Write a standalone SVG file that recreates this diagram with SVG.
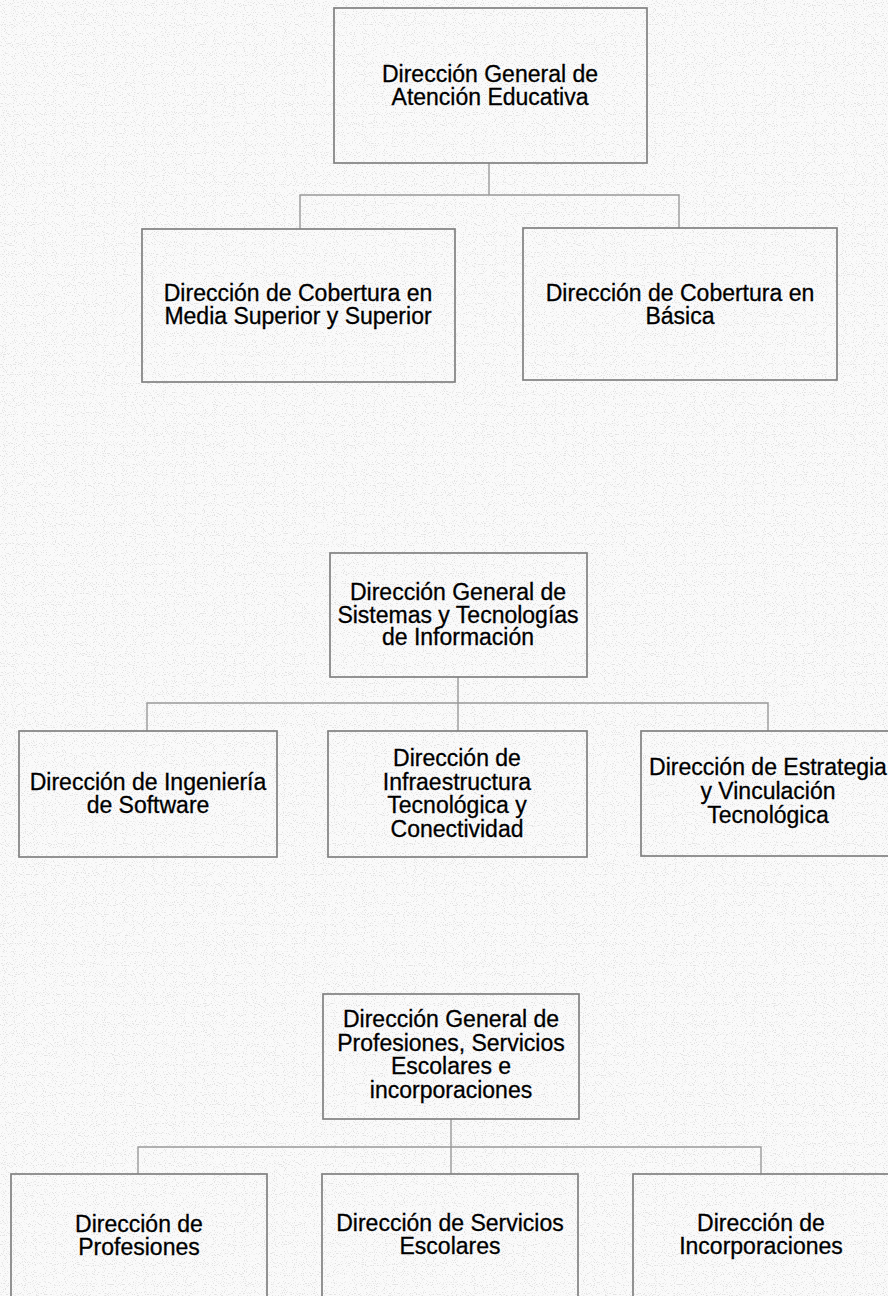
<svg xmlns="http://www.w3.org/2000/svg" width="888" height="1296" viewBox="0 0 888 1296">
<style>
.box{fill:none;stroke:#808080;stroke-width:1.7}
.con{fill:none;stroke:#999;stroke-width:1.4}
.t{font-family:"Liberation Sans",Arial,sans-serif;font-size:23px;fill:#000;stroke:#000;stroke-width:0.3;text-anchor:middle}
</style>
<defs>
<filter id="speckle" x="0" y="0" width="100%" height="100%" filterUnits="userSpaceOnUse">
<feTurbulence type="fractalNoise" baseFrequency="0.9" numOctaves="1" seed="7" result="n"/>
<feColorMatrix in="n" type="matrix" values="0 0 0 0 0.55 0 0 0 0 0.55 0 0 0 0 0.55 -7 0 0 0 3.1"/>
</filter>
</defs>
<rect width="888" height="1296" fill="#fafafa"/>
<rect width="888" height="1296" fill="#fff" filter="url(#speckle)" opacity="0.45"/>
<g id="connectors">
<path class="con" d="M489,163V195M300,229V195H679V228"/>
<path class="con" d="M458,677V731M147,731V703H768V731"/>
<path class="con" d="M451,1119V1174M138,1174V1147H761V1174"/>
</g>
<g id="n1"><rect class="box" x="334" y="8" width="313" height="155"/>
<text class="t" x="490" y="82">Dirección General de<tspan x="490" dy="23">Atención Educativa</tspan></text></g>
<g id="n2"><rect class="box" x="142" y="229" width="313" height="153"/>
<text class="t" x="298" y="301">Dirección de Cobertura en<tspan x="298" dy="23">Media Superior y Superior</tspan></text></g>
<g id="n3"><rect class="box" x="523" y="228" width="314" height="152"/>
<text class="t" x="680" y="301">Dirección de Cobertura en<tspan x="680" dy="23">Básica</tspan></text></g>
<g id="n4"><rect class="box" x="330" y="553" width="257" height="124"/>
<text class="t" x="458" y="600">Dirección General de<tspan x="458" dy="22.5">Sistemas y Tecnologías</tspan><tspan x="458" dy="22.5">de Información</tspan></text></g>
<g id="n5"><rect class="box" x="19" y="731" width="258" height="126"/>
<text class="t" x="148" y="790">Dirección de Ingeniería<tspan x="148" dy="23">de Software</tspan></text></g>
<g id="n6"><rect class="box" x="328" y="731" width="259" height="126"/>
<text class="t" x="457" y="766">Dirección de<tspan x="457" dy="23.5">Infraestructura</tspan><tspan x="457" dy="23.5">Tecnológica y</tspan><tspan x="457" dy="23.5">Conectividad</tspan></text></g>
<g id="n7"><rect class="box" x="641" y="731" width="255" height="125"/>
<text class="t" x="768" y="775">Dirección de Estrategia<tspan x="768" dy="24">y Vinculación</tspan><tspan x="768" dy="24">Tecnológica</tspan></text></g>
<g id="n8"><rect class="box" x="323" y="994" width="256" height="125"/>
<text class="t" x="451" y="1027">Dirección General de<tspan x="451" dy="23.7">Profesiones, Servicios</tspan><tspan x="451" dy="23.7">Escolares e</tspan><tspan x="451" dy="23.7">incorporaciones</tspan></text></g>
<g id="n9"><rect class="box" x="11" y="1174" width="256" height="140"/>
<text class="t" x="139" y="1232">Dirección de<tspan x="139" dy="22.5">Profesiones</tspan></text></g>
<g id="n10"><rect class="box" x="322" y="1174" width="256" height="140"/>
<text class="t" x="450" y="1231">Dirección de Servicios<tspan x="450" dy="22.5">Escolares</tspan></text></g>
<g id="n11"><rect class="box" x="633" y="1174" width="256" height="140"/>
<text class="t" x="761" y="1231">Dirección de<tspan x="761" dy="22.5">Incorporaciones</tspan></text></g>
</svg>
